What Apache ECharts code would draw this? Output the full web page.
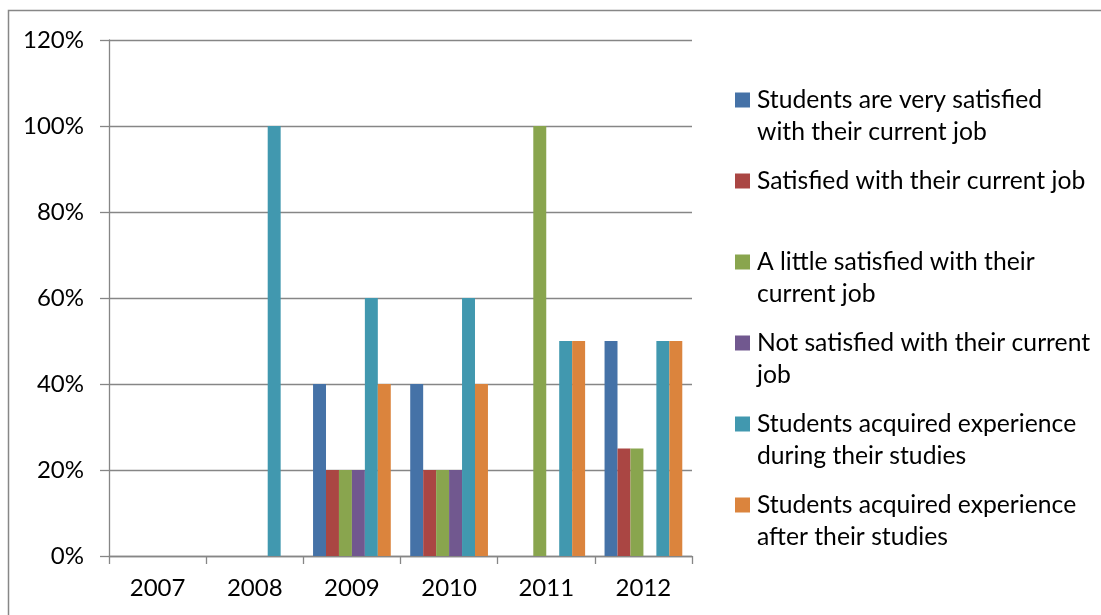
<!DOCTYPE html>
<html>
<head>
<meta charset="utf-8">
<script src="https://cdn.jsdelivr.net/npm/echarts@6/dist/echarts.min.js"></script>
<style>
  html, body { margin: 0; padding: 0; background: #fff; }
  #main { width: 1101px; height: 615px; }
</style>
</head>
<body>
<div id="main"></div>
<script>
// data (percent)
const years = ['2007', '2008', '2009', '2010', '2011', '2012'];
const verySatisfied = [0, 0, 40, 40, 0, 50];
const satisfied = [0, 0, 20, 20, 0, 25];
const littleSatisfied = [0, 0, 20, 20, 100, 25];
const notSatisfied = [0, 0, 20, 20, 0, 0];
const expDuring = [0, 100, 60, 60, 50, 50];
const expAfter = [0, 0, 40, 40, 50, 50];
const yTicks = [0, 20, 40, 60, 80, 100, 120];

const names = [
    'Students are very satisfied with their current job',
    'Satisfied with their current job',
    'A little satisfied with their current job',
    'Not satisfied with their current job',
    'Students acquired experience during their studies',
    'Students acquired experience after their studies'
];
// how excel wrapped the legend text
const wrapped = {};
wrapped[names[0]] = ['Students are very satisfied', 'with their current job'];
wrapped[names[1]] = ['Satisfied with their current job', '\u00a0'];
wrapped[names[2]] = ['A little satisfied with their', 'current job'];
wrapped[names[3]] = ['Not satisfied with their current', 'job'];
wrapped[names[4]] = ['Students acquired experience', 'during their studies'];
wrapped[names[5]] = ['Students acquired experience', 'after their studies'];

const colors = ['#4572A7', '#AA4643', '#89A54E', '#71588F', '#4198AF', '#DB843D'];
const allData = [verySatisfied, satisfied, littleSatisfied, notSatisfied, expDuring, expAfter];

const font = 'Lato';
const gray = '#868686';

let dom = document.getElementById('main');
let myChart = echarts.init(dom);

let series = names.map(function (n, i) {
    return {
        name: n,
        type: 'bar',
        data: allData[i],
        barGap: '0%',
        barCategoryGap: '20%',
        itemStyle: { color: colors[i] }
    };
});

let option = {
    animation: false,
    color: colors,
    textStyle: { fontFamily: font },
    graphic: [{
        type: 'rect',
        shape: { x: 8.5, y: 10.5, width: 1200, height: 700 },
        style: { fill: 'none', stroke: '#878787', lineWidth: 1.5 },
        silent: true
    }],
    grid: { left: 109, right: 409, top: 40, bottom: 59 },
    legend: {
        orient: 'vertical',
        left: 730,
        top: 47,
        itemWidth: 15,
        itemHeight: 15,
        itemGap: -15,
        icon: 'rect',
        // blank first line so the marker sits beside the first real line
        formatter: function (name) { return '\u00a0\n' + wrapped[name].join('\n'); },
        textStyle: {
            fontFamily: font,
            fontSize: 24.7,
            color: '#000',
            lineHeight: 32,
            padding: [0, 0, 0, 2]
        },
        data: names
    },
    xAxis: {
        type: 'category',
        data: years,
        axisLine: { lineStyle: { color: gray, width: 1.3 } },
        axisTick: { show: true, length: 8, lineStyle: { color: gray, width: 1.3 } },
        axisLabel: { fontFamily: font, fontSize: 24, color: '#000', margin: 20 }
    },
    yAxis: {
        type: 'value',
        min: yTicks[0],
        max: yTicks[yTicks.length - 1],
        interval: yTicks[1] - yTicks[0],
        axisLine: { show: true, lineStyle: { color: gray, width: 1.3 } },
        axisTick: { show: true, length: 9, lineStyle: { color: gray, width: 1.3 } },
        splitLine: { lineStyle: { color: gray, width: 1.3 } },
        axisLabel: { fontFamily: font, fontSize: 24, color: '#000', margin: 25, formatter: '{value}%' }
    },
    series: series
};

myChart.setOption(option);
</script>
</body>
</html>
